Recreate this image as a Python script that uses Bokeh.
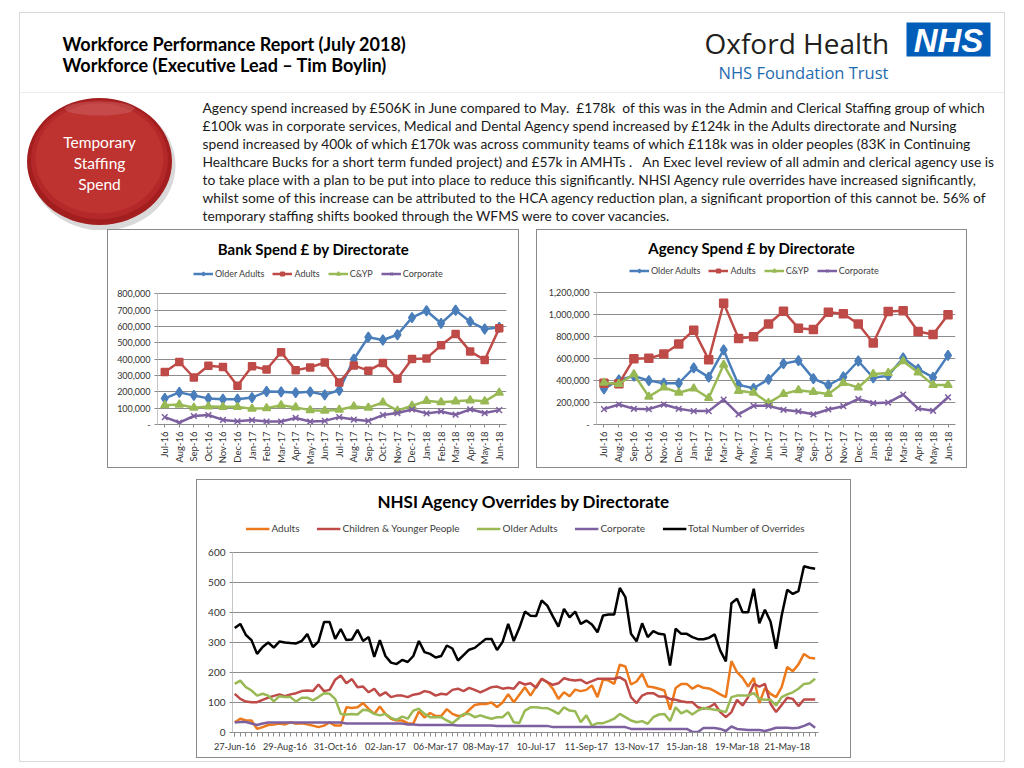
import pandas as pd
from math import pi
from bokeh.plotting import figure
from bokeh.layouts import column, row
from bokeh.models import Range1d, FactorRange, Legend, LegendItem, FixedTicker, Spacer
from bokeh.core.properties import value
from bokeh.embed import file_html
from bokeh.resources import INLINE

FONT = "Lato"

# ---------------- data ----------------
months = ["Jul-16", "Aug-16", "Sep-16", "Oct-16", "Nov-16", "Dec-16", "Jan-17", "Feb-17",
          "Mar-17", "Apr-17", "May-17", "Jun-17", "Jul-17", "Aug-17", "Sep-17", "Oct-17",
          "Nov-17", "Dec-17", "Jan-18", "Feb-18", "Mar-18", "Apr-18", "May-18", "Jun-18"]

bank_older = [160, 197, 178, 160, 155, 155, 165, 202, 200, 195, 200, 182,
              210, 400, 535, 518, 550, 655, 697, 620, 700, 630, 585, 595]
bank_adults = [322, 383, 288, 360, 352, 238, 357, 337, 443, 333, 350, 380,
               258, 362, 330, 377, 280, 402, 405, 485, 555, 448, 395, 590]
bank_cyp = [118, 122, 103, 110, 108, 108, 97, 100, 118, 105, 88, 85,
            90, 110, 103, 135, 85, 115, 145, 137, 142, 148, 142, 195]
bank_corp = [45, 12, 52, 58, 28, 20, 27, 18, 18, 40, 18, 22,
             45, 30, 22, 58, 70, 92, 68, 80, 60, 93, 70, 88]

agency_older = [325, 406, 442, 400, 376, 376, 516, 432, 680, 361, 330, 412,
                555, 582, 418, 358, 433, 579, 426, 445, 606, 504, 430, 630]
agency_adults = [376, 372, 600, 603, 642, 734, 860, 591, 1105, 785, 800, 916,
                 1033, 878, 866, 1024, 1009, 916, 743, 1030, 1036, 848, 821, 1000]
agency_cyp = [380, 370, 458, 254, 337, 290, 328, 242, 545, 307, 290, 197,
              278, 313, 296, 278, 379, 337, 460, 469, 576, 475, 361, 361]
agency_corp = [140, 182, 143, 140, 182, 143, 122, 122, 227, 93, 170, 170,
               134, 119, 93, 137, 167, 233, 194, 200, 272, 146, 125, 248]

bank_yticks = [0, 100000, 200000, 300000, 400000, 500000, 600000, 700000, 800000]
bank_ylabels = ["-", "100,000", "200,000", "300,000", "400,000", "500,000", "600,000", "700,000", "800,000"]
agency_yticks = [0, 200000, 400000, 600000, 800000, 1000000, 1200000]
agency_ylabels = ["-", "200,000", "400,000", "600,000", "800,000", "1,000,000", "1,200,000"]

ov_adults = [34, 46, 40, 40, 12, 18, 25, 27, 30, 27, 34, 29, 31, 27, 23, 18, 23, 34, 23, 23,
             84, 82, 84, 98, 79, 62, 87, 62, 46, 40, 40, 31, 30, 70, 50, 65, 55, 55, 78, 62,
             55, 57, 75, 92, 95, 95, 100, 85, 100, 128, 101, 126, 151, 123, 153, 179, 168, 146, 112, 134,
             121, 143, 138, 142, 157, 118, 177, 173, 162, 226, 220, 160, 170, 196, 153, 151, 146, 140, 76, 148,
             162, 162, 146, 157, 149, 147, 138, 127, 118, 238, 201, 182, 153, 182, 98, 148, 129, 118, 151, 218,
             204, 227, 262, 249, 247]
ov_cyp = [129, 112, 103, 101, 101, 109, 116, 122, 127, 121, 127, 131, 138, 140, 138, 160, 138, 142, 176, 190,
          164, 178, 151, 153, 134, 146, 123, 134, 118, 123, 123, 118, 126, 129, 138, 134, 123, 129, 127, 142,
          146, 138, 149, 142, 134, 142, 151, 153, 146, 149, 146, 168, 160, 164, 149, 179, 168, 159, 164, 181,
          176, 173, 176, 164, 171, 179, 179, 179, 179, 184, 173, 118, 98, 123, 131, 131, 120, 120, 112, 109,
          104, 101, 101, 84, 79, 84, 96, 68, 51, 68, 109, 90, 118, 162, 153, 162, 96, 68, 92, 116,
          112, 88, 110, 110, 110]
ov_older = [162, 173, 151, 140, 123, 129, 123, 104, 121, 118, 118, 103, 116, 116, 107, 118, 131, 129, 112, 62,
            60, 62, 60, 76, 73, 62, 57, 62, 49, 42, 53, 46, 73, 79, 62, 51, 51, 51, 40, 31,
            46, 62, 62, 51, 57, 51, 46, 51, 51, 68, 34, 32, 73, 84, 84, 82, 81, 73, 62, 84,
            73, 71, 34, 57, 23, 31, 31, 38, 46, 62, 51, 40, 34, 38, 29, 51, 60, 62, 38, 84,
            64, 73, 60, 73, 82, 79, 76, 73, 68, 118, 123, 123, 123, 131, 112, 109, 109, 90, 118, 127,
            134, 146, 162, 164, 179]
ov_corp = [33, 35, 35, 30, 25, 30, 33, 33, 33, 33, 33, 33, 33, 33, 33, 33, 33, 33, 33, 33,
           30, 30, 30, 30, 30, 30, 30, 30, 30, 30, 30, 27, 27, 25, 25, 25, 25, 25, 25, 25,
           23, 23, 23, 23, 23, 23, 23, 22, 22, 22, 22, 22, 22, 22, 22, 22, 22, 18, 18, 18,
           18, 18, 18, 18, 18, 18, 18, 18, 18, 18, 18, 12, 12, 12, 12, 12, 12, 12, 12, 12,
           12, 12, 2, 2, 15, 15, 15, 12, 5, 20, 12, 10, 8, 8, 8, 5, 10, 16, 16, 16,
           14, 16, 22, 30, 16]
ov_total = [348, 362, 325, 308, 262, 285, 300, 283, 303, 300, 298, 297, 305, 328, 285, 303, 368, 368, 312, 345,
            308, 310, 342, 305, 318, 252, 308, 255, 233, 228, 242, 235, 255, 305, 268, 262, 250, 255, 290, 280,
            240, 258, 276, 282, 297, 312, 312, 275, 302, 362, 305, 349, 403, 389, 388, 440, 423, 387, 353, 412,
            384, 403, 362, 373, 360, 334, 390, 393, 393, 482, 451, 329, 304, 364, 318, 338, 329, 327, 223, 346,
            329, 329, 318, 311, 311, 316, 327, 273, 237, 431, 446, 401, 401, 479, 364, 409, 370, 279, 390, 476,
            462, 471, 554, 549, 546]
weeks = list(range(len(ov_total)))
week_labels = list(pd.date_range("2016-06-27", periods=len(ov_total), freq="7D").strftime("%d-%b-%y"))
ov_yticks = [0, 100, 200, 300, 400, 500, 600]

NB = "\u00a0"
header_lines = ["Workforce Performance Report (July 2018)", "Workforce (Executive Lead \u2013 Tim Boylin)"]
circle_lines = ["Temporary", "Staffing", "Spend"]
paragraph_lines = [
    "Agency spend increased by \u00a3506K in June compared to May." + NB + NB + "\u00a3178k" + NB + NB + "of this was in the Admin and Clerical Staffing group of which",
    "\u00a3100k was in corporate services, Medical and Dental Agency spend increased by \u00a3124k in the Adults directorate and Nursing",
    "spend increased by 400k of which \u00a3170k was across community teams of which \u00a3118k was in older peoples (83K in Continuing",
    "Healthcare Bucks for a short term funded project) and \u00a357k in AMHTs ." + NB + NB + NB + "An Exec level review of all admin and clerical agency use is",
    "to take place with a plan to be put into place to reduce this significantly. NHSI Agency rule overrides have increased significantly,",
    "whilst some of this increase can be attributed to the HCA agency reduction plan, a significant proportion of this cannot be. 56% of",
    "temporary staffing shifts booked through the WFMS were to cover vacancies.",
]

BLUE, RED, GREEN, PURPLE = "#4A7EBB", "#BE4B48", "#98B954", "#7D60A0"
ORANGE = "#EC7A1C"
GRID = "#8C8C8C"
BOX = {"outline": "1px solid #8a8a8a"}


def canvas_fig(w, h, x0, y0):
    p = figure(width=w, height=h, x_range=Range1d(x0, x0 + w), y_range=Range1d(y0 + h, y0),
               toolbar_location=None, output_backend="svg", min_border=0,
               x_axis_type=None, y_axis_type=None, outline_line_color=None)
    p.grid.visible = False
    return p


# ---------------- header ----------------
header = canvas_fig(984, 80, 20, 13)
header.text(x=[62, 62], y=[43, 64], text=header_lines, text_font=value(FONT), text_font_style="bold",
            text_font_size="18px", text_color="#000000", text_baseline="middle", text_align="left")
header.text(x=[704], y=[42], text=["Oxford Health"], text_font=value("Open Sans"),
            text_font_size="28px", text_color="#231F20", text_baseline="middle", text_align="left")
header.text(x=[718], y=[72], text=["NHS Foundation Trust"], text_font=value("Open Sans"),
            text_font_size="16.5px", text_color="#1F6BB0", text_baseline="middle", text_align="left")
header.quad(left=[906], right=[990], top=[22], bottom=[56], fill_color="#005EB8", line_color=None)
header.text(x=[948], y=[40], text=["NHS"], text_font=value("Liberation Sans"), text_font_style="bold italic",
            text_font_size="33px", text_color="#FFFFFF", text_baseline="middle", text_align="center")
header.segment(x0=[20], y0=[92.5], x1=[1004], y1=[92.5], line_color="#D9D9D9", line_width=1)

# ---------------- circle + paragraph ----------------
mid = canvas_fig(984, 137, 20, 93)
mid.ellipse(x=[102], y=[165], width=[146], height=[130], fill_color="#000000", fill_alpha=0.15, line_color=None)
mid.ellipse(x=[99], y=[161], width=[145], height=[127], fill_color="#A31E1E", line_color=None)
mid.ellipse(x=[99], y=[159], width=[137], height=[119], fill_color="#B4282A", line_color=None)
mid.ellipse(x=[99], y=[158], width=[128], height=[110], fill_color="#BE3230", line_color=None)
mid.ellipse(x=[99], y=[108], width=[70], height=[14], fill_color="#FFFFFF", fill_alpha=0.12, line_color=None)
mid.text(x=[99, 99, 99], y=[141, 162, 183], text=circle_lines, text_font=value(FONT),
         text_font_size="15.5px", text_color="#FFFFFF", text_baseline="middle", text_align="center")
mid.text(x=[202] * len(paragraph_lines), y=[107 + 18 * i for i in range(len(paragraph_lines))],
         text=paragraph_lines, text_font=value(FONT), text_font_size="13.8px", text_color="#1A1A1A",
         text_baseline="middle", text_align="left")


def style_axis(ax, size):
    ax.axis_line_color = GRID
    ax.major_tick_line_color = GRID
    ax.minor_tick_line_color = None
    ax.major_tick_in = 0
    ax.major_tick_out = 3
    ax.major_label_text_font = FONT
    ax.major_label_text_font_size = size
    ax.major_label_text_color = "#333333"
    ax.major_label_standoff = 4


# ---------------- spend charts ----------------
def spend_chart(title, w, h, bl, br, fig_top, ymax_px, zero_px, ymax, yticks, ylabels, series,
                title_px, legend_gap):
    bt = 2
    frame_top = fig_top + bt
    frame_h = zero_px - frame_top
    ext = ymax * frame_h / (zero_px - ymax_px)
    bb = fig_top + h - zero_px
    p = figure(width=w, height=h, x_range=FactorRange(factors=months), y_range=Range1d(0, ext),
               toolbar_location=None, output_backend="svg", min_border_left=bl, min_border_right=br,
               min_border_top=bt, min_border_bottom=int(round(bb)), outline_line_color=None)
    items = []
    for name, vals, color, marker, size in series:
        l = p.line(months, vals, line_color=color, line_width=2.5)
        s = p.scatter(months, vals, marker=marker, size=size, fill_color=color, line_color=color, line_width=1.5)
        items.append(LegendItem(label=name, renderers=[l, s]))
    p.segment(x0=[0], y0=[0], x1=[0], y1=[ymax], line_color=GRID, line_width=1)
    n = len(months)
    frame_w = w - bl - br
    tx = (w / 2 - bl) / frame_w * n
    ty = (zero_px - title_px) / frame_h * ext
    p.text(x=[tx], y=[ty], text=[title], text_font=value(FONT), text_font_style="bold",
           text_font_size="15px", text_color="#000000", text_align="center", text_baseline="middle")
    leg = Legend(items=items, orientation="horizontal", location="top_left",
                 label_text_font=FONT, label_text_font_size="9px", label_text_color="#404040",
                 glyph_width=20, glyph_height=9, label_standoff=2, spacing=8, padding=2, margin=legend_gap,
                 border_line_color=None, background_fill_alpha=0)
    p.add_layout(leg, "center")
    p.xgrid.visible = False
    p.ygrid.grid_line_color = GRID
    p.ygrid.ticker = FixedTicker(ticks=yticks)
    p.yaxis.ticker = FixedTicker(ticks=yticks)
    p.yaxis.major_label_overrides = dict(zip(yticks, ylabels))
    style_axis(p.xaxis[0], "9.5px")
    style_axis(p.yaxis[0], "9px")
    p.yaxis.axis_line_color = None
    p.xaxis.major_label_orientation = pi / 2
    return p


bank = spend_chart("Bank Spend \u00a3 by Directorate", 410, 237, 49, 12, 230, 294.3, 426.7, 800000,
                   bank_yticks, bank_ylabels,
                   [("Older Adults", [v * 1000 for v in bank_older], BLUE, "diamond", 10),
                    ("Adults", [v * 1000 for v in bank_adults], RED, "square", 7),
                    ("C&YP", [v * 1000 for v in bank_cyp], GREEN, "triangle", 8),
                    ("Corporate", [v * 1000 for v in bank_corp], PURPLE, "x", 8)],
                   249, 36)
agency = spend_chart("Agency Spend \u00a3 by Directorate", 429, 237, 59, 11, 230, 293.3, 427, 1200000,
                     agency_yticks, agency_ylabels,
                     [("Older Adults", [v * 1000 for v in agency_older], BLUE, "diamond", 10),
                      ("Adults", [v * 1000 for v in agency_adults], RED, "square", 8),
                      ("C&YP", [v * 1000 for v in agency_cyp], GREEN, "triangle", 8),
                      ("Corporate", [v * 1000 for v in agency_corp], PURPLE, "x", 8)],
                     248, 33)

# ---------------- overrides chart ----------------
OV_TOP, OV_H, OV_W, OV_BL, OV_BR = 480, 277, 653, 35, 32
ov_y600, ov_y0 = 552, 732
ov_frame_top = OV_TOP + 2
ov_frame_h = ov_y0 - ov_frame_top
ov_ext = 600 * ov_frame_h / (ov_y0 - ov_y600)
xr0, xr1 = -0.4, 104.6
over = figure(width=OV_W, height=OV_H, x_range=Range1d(xr0, xr1), y_range=Range1d(0, ov_ext),
              toolbar_location=None, output_backend="svg", min_border_left=OV_BL, min_border_right=OV_BR,
              min_border_top=2, min_border_bottom=OV_TOP + OV_H - ov_y0, outline_line_color=None)
ov_items = []
for name, vals, color in [("Adults", ov_adults, ORANGE), ("Children & Younger People", ov_cyp, RED),
                          ("Older Adults", ov_older, GREEN), ("Corporate", ov_corp, PURPLE),
                          ("Total Number of Overrides", ov_total, "#000000")]:
    r = over.line(weeks, vals, line_color=color, line_width=2.5)
    ov_items.append(LegendItem(label=name, renderers=[r]))
over.segment(x0=[xr0], y0=[0], x1=[xr0], y1=[600], line_color=GRID, line_width=1)
ov_frame_w = OV_W - OV_BL - OV_BR
ov_tx = xr0 + (OV_W / 2 - OV_BL) / ov_frame_w * (xr1 - xr0)
ov_ty = (ov_y0 - 501) / ov_frame_h * ov_ext
over.text(x=[ov_tx], y=[ov_ty], text=["NHSI Agency Overrides by Directorate"], text_font=value(FONT),
          text_font_style="bold", text_font_size="17px", text_color="#000000",
          text_align="center", text_baseline="middle")
ov_leg = Legend(items=ov_items, orientation="horizontal", location="top_center",
                label_text_font=FONT, label_text_font_size="10px", label_text_color="#404040",
                glyph_width=24, glyph_height=9, label_standoff=2, spacing=17, padding=2, margin=40,
                border_line_color=None, background_fill_alpha=0)
over.add_layout(ov_leg, "center")
over.xgrid.visible = False
over.ygrid.grid_line_color = GRID
over.ygrid.ticker = FixedTicker(ticks=ov_yticks)
over.yaxis.ticker = FixedTicker(ticks=ov_yticks)
xt = list(range(0, len(weeks), 9))
over.xaxis.ticker = FixedTicker(ticks=xt, minor_ticks=weeks)
over.xaxis.major_label_overrides = {t: week_labels[t] for t in xt}
style_axis(over.xaxis[0], "9.2px")
style_axis(over.yaxis[0], "10px")
over.yaxis.axis_line_color = None
over.xaxis.major_tick_out = 4
over.xaxis.minor_tick_out = 4
over.xaxis.minor_tick_in = 0
over.xaxis.minor_tick_line_color = GRID


def boxed(fig):
    return column(fig, styles=BOX)


layout = column(
    header,
    mid,
    row(Spacer(width=88, height=250), boxed(bank), Spacer(width=19, height=250), boxed(agency),
        Spacer(width=38, height=250)),
    row(Spacer(width=177, height=281), boxed(over), Spacer(width=154, height=281)),
    margin=(13, 0, 0, 20),
    styles={"outline": "1px solid #D9D9D9"},
)

open("out.html", "w").write(file_html(layout, INLINE, title="Workforce Performance Report"))
